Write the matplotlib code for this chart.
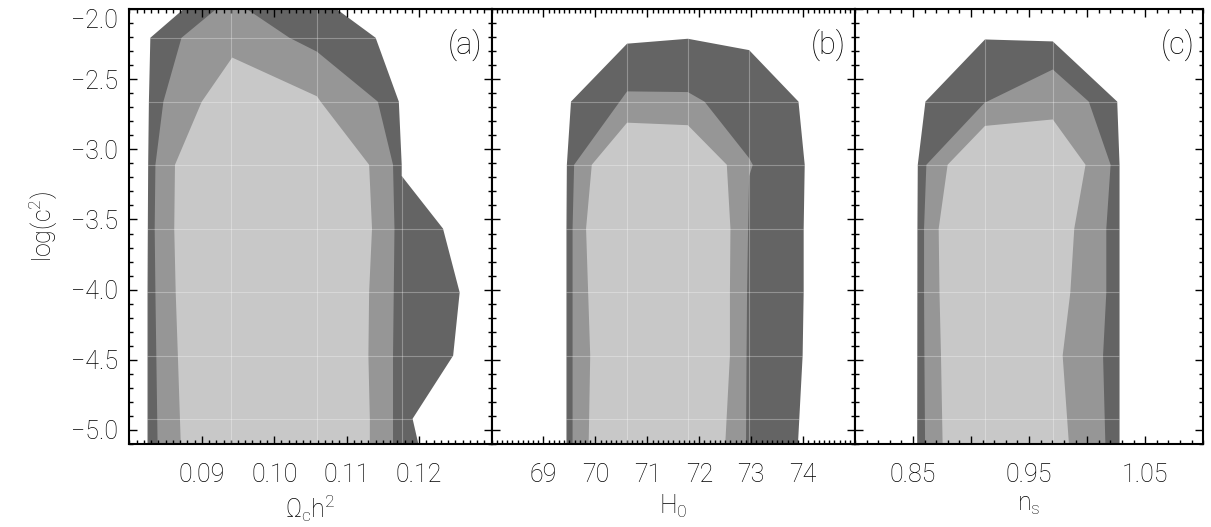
import matplotlib
matplotlib.use('Agg')
import matplotlib.pyplot as plt
from matplotlib.patches import Polygon
from matplotlib.ticker import MultipleLocator, FixedLocator, FixedFormatter

# confidence regions, log(c^2) on y; (x, y) vertices
# panel (a): Omega_c h^2
a_outer = [(0.0825, -5.1), (0.0825, -4.02), (0.0826, -3.11), (0.0827, -2.66), (0.0829, -2.205),
           (0.0875, -2.0), (0.1086, -2.0), (0.1140, -2.205), (0.1172, -2.66), (0.1176, -3.11),
           (0.1176, -3.19), (0.1233, -3.565), (0.1256, -4.02), (0.1247, -4.47), (0.1191, -4.92),
           (0.1199, -5.1)]
a_mid = [(0.0839, -5.1), (0.0836, -4.02), (0.0835, -3.565), (0.0836, -3.11), (0.0847, -2.66),
         (0.0872, -2.205), (0.0920, -2.0), (0.0962, -2.0), (0.1021, -2.205), (0.1059, -2.304),
         (0.1143, -2.66), (0.1164, -3.11), (0.1166, -3.565), (0.1165, -4.02), (0.1164, -4.47),
         (0.1164, -5.1)]
a_inner = [(0.0871, -5.1), (0.0867, -4.47), (0.0864, -4.02), (0.0862, -3.565), (0.0863, -3.11),
           (0.0900, -2.66), (0.0942, -2.346), (0.1059, -2.622), (0.1064, -2.66), (0.1131, -3.11),
           (0.1135, -3.565), (0.1131, -4.02), (0.1130, -4.47), (0.1132, -4.92), (0.1132, -5.1)]

# panel (b): H0
b_outer = [(69.44, -5.1), (69.44, -4.47), (69.44, -3.565), (69.45, -3.11), (69.53, -2.66),
           (70.61, -2.247), (71.78, -2.212), (72.96, -2.293), (73.91, -2.66), (74.03, -3.11),
           (74.01, -3.565), (74.01, -4.02), (73.99, -4.47), (73.90, -5.1)]
b_mid = [(69.56, -5.1), (69.56, -4.47), (69.56, -3.565), (69.59, -3.11), (70.61, -2.587),
         (71.78, -2.592), (72.10, -2.66), (72.96, -3.063), (73.03, -3.11), (72.96, -3.19),
         (72.94, -3.565), (72.92, -4.02), (72.91, -4.47), (72.90, -5.1)]
b_inner = [(69.87, -5.1), (69.90, -4.47), (69.86, -4.02), (69.82, -3.565), (69.93, -3.11),
           (70.61, -2.81), (71.78, -2.828), (72.53, -3.11), (72.60, -3.565), (72.59, -4.02),
           (72.59, -4.47), (72.50, -5.1)]

# panel (c): n_s
c_outer = [(0.8536, -5.1), (0.8538, -3.565), (0.8541, -3.11), (0.8607, -2.66), (0.9120, -2.217),
           (0.9704, -2.231), (1.0259, -2.66), (1.0279, -3.11), (1.0279, -5.1)]
c_mid = [(0.8604, -5.1), (0.8598, -4.47), (0.8595, -4.02), (0.8595, -3.565), (0.8615, -3.11),
         (0.9117, -2.668), (0.9704, -2.431), (1.0014, -2.66), (1.0202, -3.11), (1.0165, -3.565),
         (1.0165, -4.02), (1.0137, -4.47), (1.0157, -5.1)]
c_inner = [(0.8755, -5.1), (0.8741, -4.47), (0.8728, -4.02), (0.8721, -3.565), (0.8798, -3.11),
           (0.9120, -2.833), (0.9704, -2.787), (0.9986, -3.11), (0.9889, -3.565), (0.9855, -4.02),
           (0.9789, -4.47), (0.9843, -5.1)]

# likelihood grid nodes (show up as faint seams in the fills)
grid_rows = [-2.205, -2.66, -3.11, -3.565, -4.02, -4.47, -4.92]
a_cols = [0.0824, 0.0941, 0.1059, 0.1176, 0.1294]
b_cols = [69.43, 70.61, 71.78, 72.96, 74.14]
c_cols = [0.8527, 0.9117, 0.9705, 1.0297]

a_ticks = [0.09, 0.10, 0.11, 0.12]
a_labels = ['0.09', '0.10', '0.11', '0.12']
b_ticks = [69, 70, 71, 72, 73, 74]
b_labels = ['69', '70', '71', '72', '73', '74']
c_ticks = [0.85, 0.90, 0.95, 1.00, 1.05]
c_labels = ['0.85', '', '0.95', '', '1.05']

shades = ['#646464', '#969696', '#c8c8c8']

plt.rcParams['font.family'] = ['Roboto', 'DejaVu Sans']
plt.rcParams['font.weight'] = 'light'
plt.rcParams['axes.labelweight'] = 'light'
plt.rcParams['font.size'] = 18
plt.rcParams['mathtext.fontset'] = 'custom'
plt.rcParams['mathtext.rm'] = 'Roboto:light'
plt.rcParams['mathtext.it'] = 'Roboto:light'
plt.rcParams['mathtext.default'] = 'rm'

fig = plt.figure(figsize=(12.11, 5.27), dpi=100)
bottom, height = 0.1575, 0.8254
ax_a = fig.add_axes([0.1068, bottom, 0.2991, height])
ax_b = fig.add_axes([0.4059, bottom, 0.3002, height])
ax_c = fig.add_axes([0.7060, bottom, 0.2876, height])

panels = [
    (ax_a, [a_outer, a_mid, a_inner], a_cols, (0.08, 0.13), a_ticks, a_labels, 0.001, r'$\Omega_c h^2$', '(a)'),
    (ax_b, [b_outer, b_mid, b_inner], b_cols, (68, 75), b_ticks, b_labels, 0.1, r'$H_0$', '(b)'),
    (ax_c, [c_outer, c_mid, c_inner], c_cols, (0.80, 1.10), c_ticks, c_labels, 0.01, r'$n_s$', '(c)'),
]

for ax, regions, cols, xlim, ticks, labels, minor, xlabel, tag in panels:
    patches = []
    for verts, col in zip(regions, shades):
        p = Polygon(verts, closed=True, facecolor=col, edgecolor='none', lw=0, zorder=1)
        ax.add_patch(p)
        patches.append(p)
    # faint grid seams, only inside the outer region
    vl = ax.vlines(cols, -5.2, -1.9, colors='white', alpha=0.3, lw=0.8, zorder=2)
    hl = ax.hlines(grid_rows, xlim[0], xlim[1], colors='white', alpha=0.3, lw=0.8, zorder=2)
    vl.set_clip_path(patches[0])
    hl.set_clip_path(patches[0])

    ax.set_xlim(*xlim)
    ax.set_ylim(-5.1, -2.0)
    ax.xaxis.set_major_locator(FixedLocator(ticks))
    ax.xaxis.set_major_formatter(FixedFormatter(labels))
    ax.xaxis.set_minor_locator(MultipleLocator(minor))
    ax.yaxis.set_major_locator(MultipleLocator(0.5))
    ax.yaxis.set_minor_locator(MultipleLocator(0.1))
    ax.tick_params(which='both', direction='in', top=True, right=True, width=1.0, color='black')
    ax.tick_params(which='major', length=6)
    ax.tick_params(which='minor', length=3)
    ax.tick_params(axis='x', which='major', pad=14)
    ax.tick_params(axis='y', which='major', pad=8)
    for s in ax.spines.values():
        s.set_linewidth(1.5)
    ax.set_xlabel(xlabel, labelpad=4)
    ax.text(0.975, 0.917, tag, transform=ax.transAxes, ha='right', va='center', fontsize=22)
    if ax is not ax_a:
        ax.tick_params(axis='y', labelleft=False)

ax_a.set_ylabel(r'log(c$^2$)', labelpad=8)

# top label sits inside the figure like the original
fig.canvas.draw()
for lab in ax_a.get_yticklabels():
    if lab.get_text() in ('\u22122.0', '-2.0'):
        lab.set_va('top')

fig.savefig('out.png', dpi=100)
